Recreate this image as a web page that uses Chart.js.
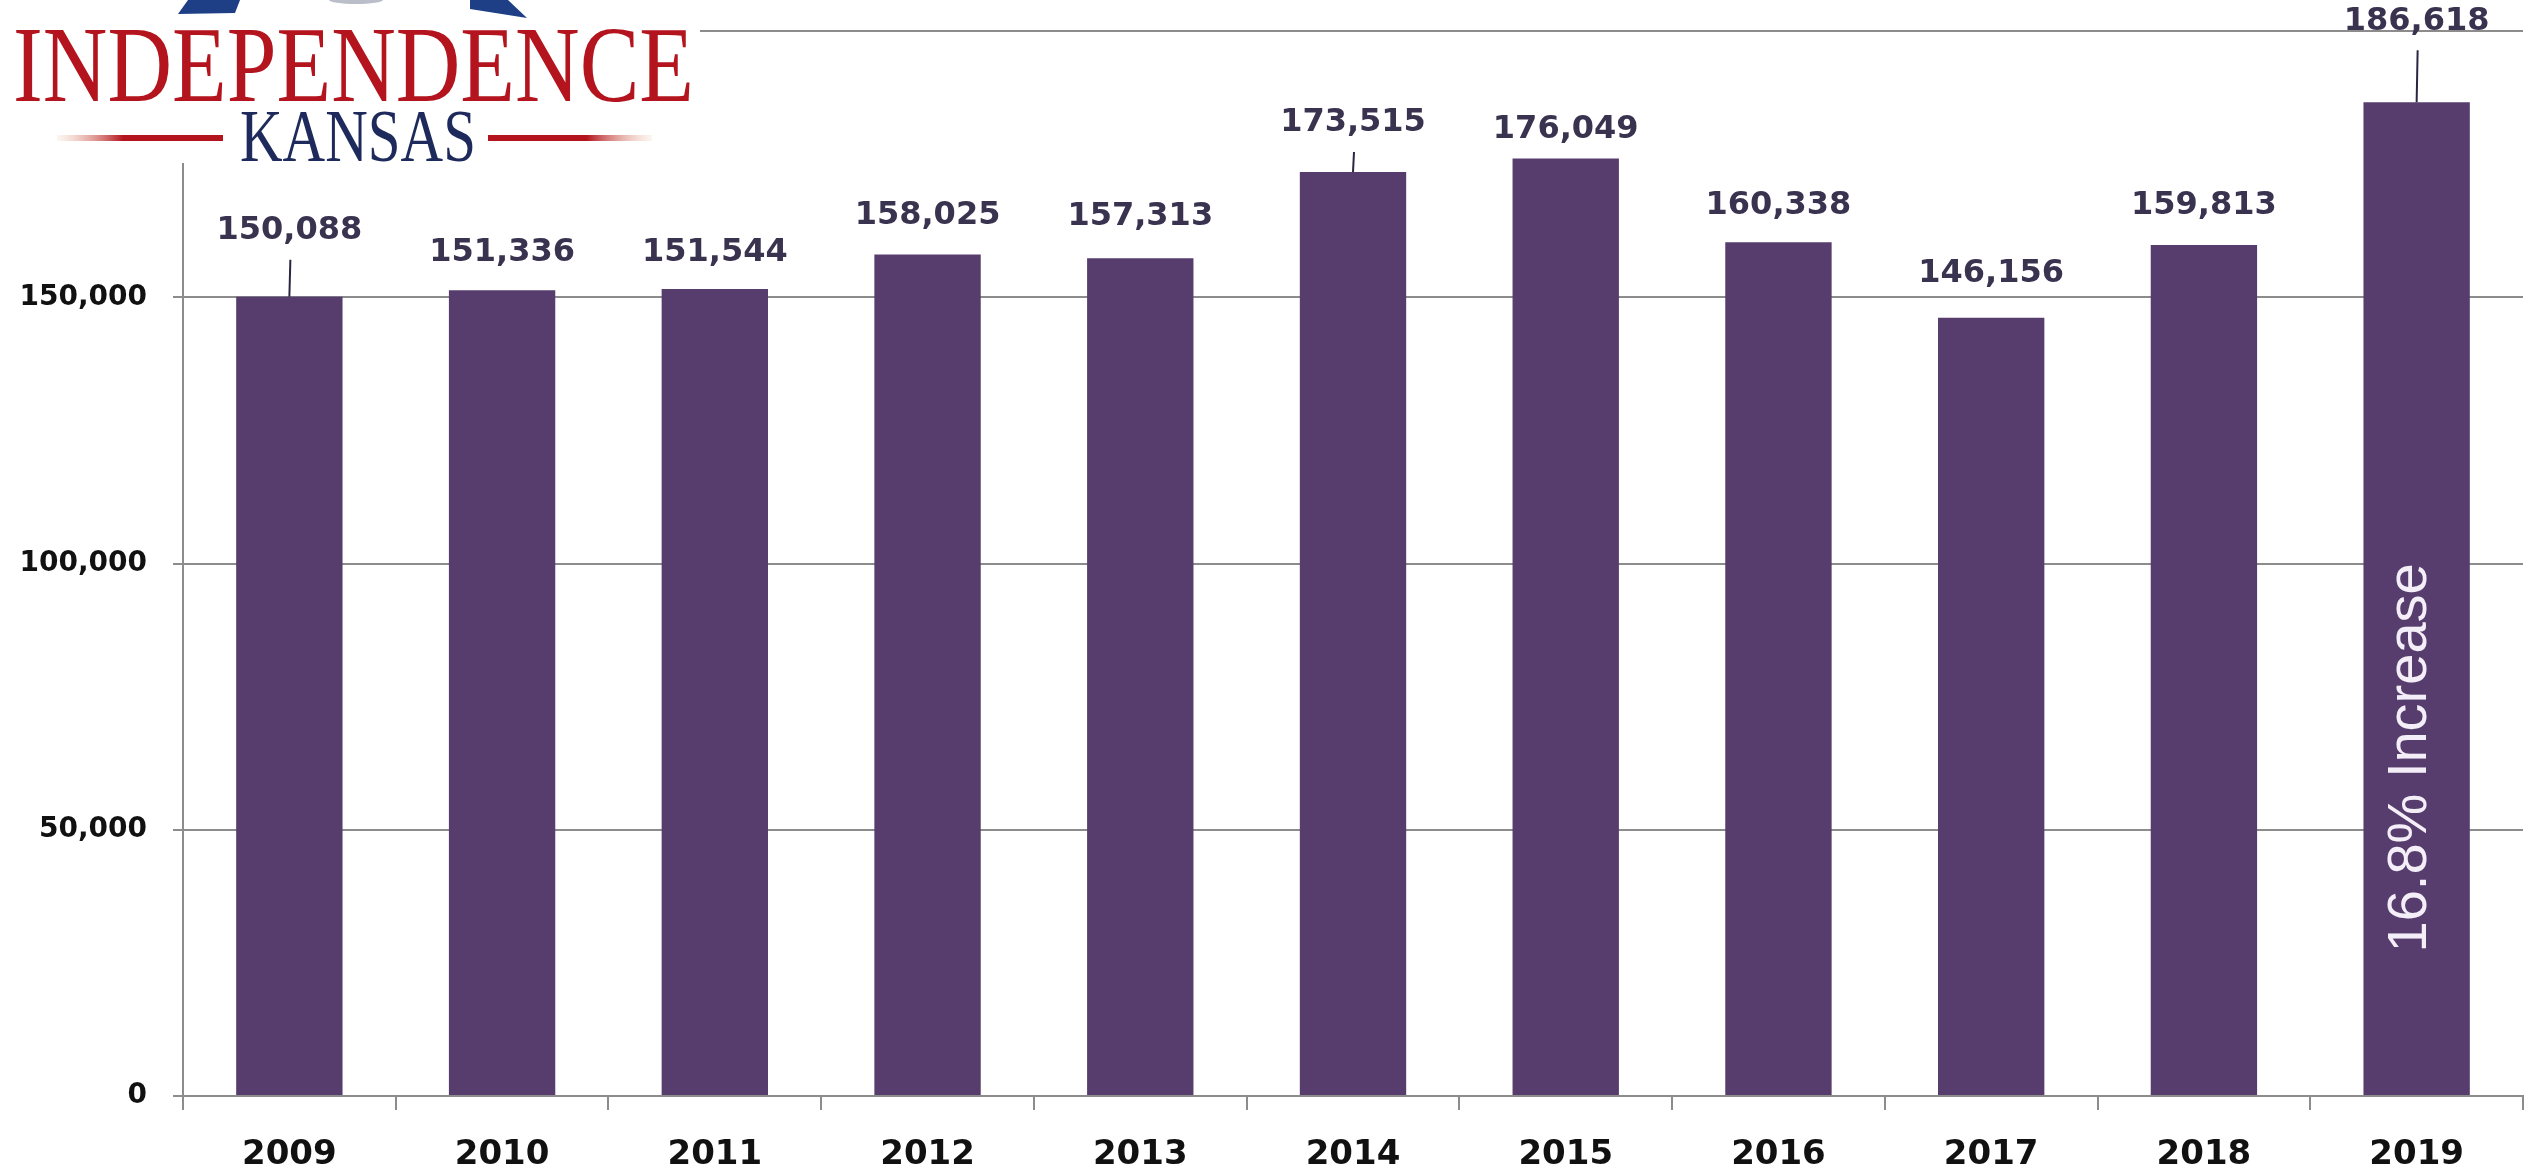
<!DOCTYPE html>
<html>
<head>
<meta charset="utf-8">
<script src="https://cdn.jsdelivr.net/npm/chart.js@4.4.1/dist/chart.umd.min.js"></script>
<style>
  html, body { margin: 0; padding: 0; background: #fff; }
  canvas { display: block; }
</style>
</head>
<body>
<canvas id="grafico" width="2529" height="1174"></canvas>
<script>
// data
const anos = ['2009', '2010', '2011', '2012', '2013', '2014', '2015', '2016', '2017', '2018', '2019'];
const visitantes = [150088, 151336, 151544, 158025, 157313, 173515, 176049, 160338, 146156, 159813, 186618];
const yTicks = [0, 50000, 100000, 150000, 200000];
const nota = '16.8% Increase';

// label placement (px above bar top) and which labels have a leader line
const labelLift = [66, 37, 36, 39, 42, 49, 29, 37, 44, 39, 81];
const leader = [true, false, false, false, false, true, false, false, false, false, true];

const roxo = '#563d6d';
const cinza = '#8c8c8c';

const fmt = v => v.toLocaleString('en-US');

const rotulos = {
  id: 'rotulos',
  afterDatasetsDraw(chart) {
    const ctx = chart.ctx;
    const meta = chart.getDatasetMeta(0);
    ctx.save();
    ctx.font = 'bold 32px "DejaVu Sans"';
    ctx.fillStyle = '#3a3350';
    ctx.textAlign = 'center';
    ctx.textBaseline = 'middle';
    meta.data.forEach((bar, i) => {
      const cy = bar.y - labelLift[i];
      ctx.fillText(fmt(visitantes[i]), bar.x, cy);
      if (leader[i]) {
        ctx.strokeStyle = '#2b2540';
        ctx.lineWidth = 2;
        ctx.beginPath();
        ctx.moveTo(bar.x + 1, cy + 29);
        ctx.lineTo(bar.x, bar.y);
        ctx.stroke();
      }
    });

    // rotated note inside the last bar
    const last = meta.data[meta.data.length - 1];
    const yScale = chart.scales.y;
    const cy = yScale.getPixelForValue(63500);
    ctx.translate(last.x - 6, cy);
    ctx.rotate(-Math.PI / 2);
    ctx.font = '56px "Liberation Sans"';
    ctx.fillStyle = '#f4eef8';
    ctx.fillText(nota, 0, 0);
    ctx.restore();
  }
};

const logo = {
  id: 'logo',
  afterDraw(chart) {
    const ctx = chart.ctx;
    ctx.save();
    ctx.fillStyle = '#fff';
    ctx.fillRect(0, 0, 700, 163);

    // bits of the stars cut off by the top edge
    ctx.fillStyle = '#1e3f86';
    ctx.beginPath();
    ctx.moveTo(188, 0); ctx.lineTo(240, 0); ctx.lineTo(235, 13); ctx.lineTo(178, 14);
    ctx.closePath(); ctx.fill();
    ctx.beginPath();
    ctx.moveTo(470, 0); ctx.lineTo(508, 0); ctx.lineTo(527, 18); ctx.lineTo(470, 9);
    ctx.closePath(); ctx.fill();
    ctx.fillStyle = '#b9bec8';
    ctx.beginPath();
    ctx.ellipse(356, 0, 27, 4, 0, 0, Math.PI);
    ctx.fill();

    ctx.fillStyle = '#b3141d';
    ctx.font = '108px "Liberation Serif"';
    ctx.textAlign = 'left';
    ctx.textBaseline = 'alphabetic';
    ctx.fillText('INDEPENDENCE', 13, 101, 681);

    ctx.fillStyle = '#1f2a5c';
    ctx.font = '74px "Liberation Serif"';
    ctx.fillText('KANSAS', 240, 161, 236);

    let g = ctx.createLinearGradient(57, 0, 223, 0);
    g.addColorStop(0, 'rgba(235,190,160,0.15)');
    g.addColorStop(0.4, '#b3141d');
    g.addColorStop(1, '#b3141d');
    ctx.fillStyle = g;
    ctx.fillRect(57, 135, 166, 6);
    g = ctx.createLinearGradient(488, 0, 652, 0);
    g.addColorStop(0, '#b3141d');
    g.addColorStop(0.6, '#b3141d');
    g.addColorStop(1, 'rgba(235,190,160,0.15)');
    ctx.fillStyle = g;
    ctx.fillRect(488, 135, 164, 6);
    ctx.restore();
  }
};

new Chart(document.getElementById('grafico').getContext('2d'), {
  type: 'bar',
  data: {
    labels: anos,
    datasets: [{
      data: visitantes,
      backgroundColor: roxo,
      borderWidth: 0,
      barPercentage: 0.5,
      categoryPercentage: 1.0
    }]
  },
  options: {
    responsive: false,
    animation: false,
    devicePixelRatio: 1,
    layout: { padding: { top: 31, right: 6, left: 0, bottom: 0 } },
    plugins: {
      legend: { display: false },
      tooltip: { enabled: false }
    },
    scales: {
      x: {
        offset: true,
        afterFit(scale) { scale.height = 78; },
        grid: {
          offset: true,
          drawOnChartArea: false,
          drawTicks: true,
          tickLength: 14,
          color: cinza,
          lineWidth: 2
        },
        border: { display: true, color: cinza, width: 2 },
        ticks: {
          color: '#111',
          font: { family: 'DejaVu Sans', weight: 'bold', size: 34 },
          padding: 25,
          maxRotation: 0
        }
      },
      y: {
        min: 0,
        max: 200000,
        afterFit(scale) {
          scale.width = 183;
          scale.paddingTop = 0;
          scale.paddingBottom = 0;
        },
        afterBuildTicks(scale) { scale.ticks = yTicks.map(v => ({ value: v })); },
        grid: { color: cinza, lineWidth: 2, tickLength: 10 },
        border: { display: true, color: cinza, width: 2 },
        ticks: {
          color: '#111',
          font: { family: 'DejaVu Sans', weight: 'bold', size: 28 },
          padding: 26,
          callback: v => fmt(v)
        }
      }
    }
  },
  plugins: [rotulos, logo]
});
</script>
</body>
</html>
